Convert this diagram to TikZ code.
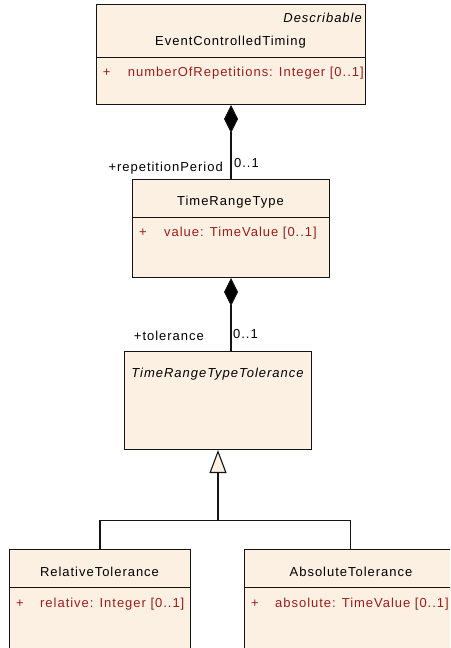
\documentclass[tikz,border=0pt]{standalone}
\usepackage{fontspec}
\setmainfont{Liberation Sans}[LetterSpace=7.5]
\usetikzlibrary{arrows.meta}
\definecolor{umlfill}{RGB}{251,240,226}
\definecolor{umlred}{RGB}{155,28,28}
\definecolor{umlline}{RGB}{20,20,20}
\tikzset{
  box/.style={draw=umlline, fill=umlfill, line width=1pt, inner sep=0pt, anchor=north west},
  sep/.style={draw=umlline, line width=1pt},
  conn/.style={draw=umlline, line width=1.1pt},
  comp/.style={conn, -{Diamond[length=28pt,width=14pt,fill=black]}},
  gen/.style={conn, -{Triangle[length=23pt,width=17pt,fill=umlfill]}},
  lbl/.style={inner sep=0pt, anchor=base, font=\fontsize{13}{15}\selectfont, text=black},
  attr/.style={inner sep=0pt, anchor=base, font=\fontsize{13}{15}\selectfont, text=umlred},
}
\begin{document}
\begin{tikzpicture}[x=1pt,y=-1pt]
\useasboundingbox (0,0) rectangle (450,648);
\clip (0,0) rectangle (450,648);
% EventControlledTiming
\node[box, minimum width=269pt, minimum height=100pt] (b1) at (96,4) {};
\draw[sep] (96,57) -- (365,57);
\node[lbl, anchor=base east] (b1s) at (362,22) {\itshape Describable};
\node[lbl] (b1n) at (230.5,45.7) {EventControlledTiming};
\node[attr] (b1p) at (106.7,76) {+};
\node[attr, anchor=base west] (b1a) at (127.7,76) {numberOfRepetitions: Integer [0..1]};
% TimeRangeType
\node[box, minimum width=197pt, minimum height=98pt] (b2) at (132,179) {};
\draw[sep] (132,217) -- (329,217);
\node[lbl] (b2n) at (230.5,205) {TimeRangeType};
\node[attr] (b2p) at (143,236) {+};
\node[attr, anchor=base west] (b2a) at (164,236) {value: TimeValue [0..1]};
% TimeRangeTypeTolerance
\node[box, minimum width=187pt, minimum height=98pt] (b3) at (124,351) {};
\node[lbl] (b3n) at (217.5,377) {\itshape TimeRangeTypeTolerance};
% RelativeTolerance
\node[box, minimum width=181pt, minimum height=120pt] (rel) at (9,549) {};
\draw[sep] (9,587) -- (190,587);
\node[lbl] (reln) at (99.5,576) {RelativeTolerance};
\node[attr] (relp) at (20,607) {+};
\node[attr, anchor=base west] (rela) at (40,607) {relative: Integer [0..1]};
% AbsoluteTolerance
\node[box, minimum width=212pt, minimum height=120pt] (abs) at (244,549) {};
\draw[sep] (244,587) -- (456,587);
\node[lbl] (absn) at (351,576) {AbsoluteTolerance};
\node[attr] (absp) at (255,607) {+};
\node[attr, anchor=base west] (absa) at (275,607) {absolute: TimeValue [0..1]};
% compositions
\draw[comp] (b2.north) -- (b1.south);
\node[lbl, anchor=base east] (r1) at (223,171) {+repetitionPeriod};
\node[lbl, anchor=base west] (m1) at (234,167) {0..1};
\coordinate (c2) at (b3.north -| b2.south);
\draw[comp] (c2) -- (b2.south);
\node[lbl, anchor=base east] (r2) at (204,340) {+tolerance};
\node[lbl, anchor=base west] (m2) at (233,338) {0..1};
% generalization
\coordinate (j) at (b3.south |- 0,520.5);
\draw[conn] (rel.north) |- (j);
\draw[conn] (abs.north) |- (j);
\draw[gen] (j) -- (b3.south);
\end{tikzpicture}
\end{document}
